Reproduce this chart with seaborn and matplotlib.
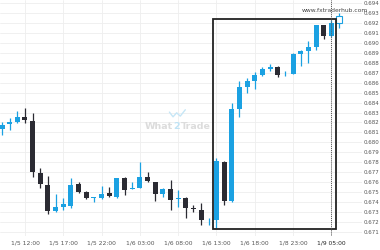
import numpy as np
import pandas as pd
import matplotlib
matplotlib.use("Agg")
import matplotlib.pyplot as plt
import seaborn as sns
from matplotlib.patches import Rectangle
from matplotlib.ticker import MultipleLocator, FormatStrFormatter

# hourly candles, starting 1/5 09:00
opens = [0.68134, 0.68184, 0.68205, 0.68255, 0.68215, 0.67691, 0.67570, 0.67308, 0.67348, 0.67359,
         0.67580, 0.67499, 0.67444, 0.67439, 0.67489, 0.67449, 0.67641, 0.67535, 0.67540, 0.67651,
         0.67600, 0.67479, 0.67530, 0.67434, 0.67439, 0.67338, 0.67318, 0.67203, 0.67218, 0.67802,
         0.67409, 0.68335, 0.68557, 0.68617, 0.68678, 0.68738, 0.68758, 0.68673, 0.68688, 0.68889,
         0.68919, 0.68960, 0.69181, 0.69070, 0.69201]
highs = [0.68205, 0.68245, 0.68315, 0.68345, 0.68295, 0.67741, 0.67661, 0.67479, 0.67439, 0.67641,
         0.67600, 0.67510, 0.67449, 0.67560, 0.67550, 0.67641, 0.67651, 0.67600, 0.67802, 0.67701,
         0.67605, 0.67540, 0.67620, 0.67520, 0.67445, 0.67369, 0.67389, 0.67238, 0.67842, 0.67812,
         0.68396, 0.68617, 0.68648, 0.68708, 0.68758, 0.68788, 0.68768, 0.68718, 0.68895, 0.68930,
         0.69020, 0.69185, 0.69185, 0.69232, 0.69302]
lows = [0.68074, 0.68124, 0.68194, 0.68194, 0.67651, 0.67540, 0.67278, 0.67298, 0.67318, 0.67338,
        0.67489, 0.67429, 0.67399, 0.67434, 0.67449, 0.67439, 0.67469, 0.67530, 0.67540, 0.67600,
        0.67409, 0.67449, 0.67318, 0.67348, 0.67238, 0.67298, 0.67167, 0.67167, 0.67137, 0.67369,
        0.67399, 0.68255, 0.68497, 0.68537, 0.68668, 0.68718, 0.68658, 0.68668, 0.68683, 0.68768,
        0.68799, 0.68930, 0.69040, 0.69060, 0.69151]
closes = [0.68174, 0.68205, 0.68255, 0.68225, 0.67701, 0.67580, 0.67308, 0.67348, 0.67379, 0.67570,
          0.67499, 0.67439, 0.67449, 0.67479, 0.67459, 0.67641, 0.67520, 0.67540, 0.67651, 0.67610,
          0.67479, 0.67530, 0.67419, 0.67439, 0.67338, 0.67333, 0.67218, 0.67208, 0.67812, 0.67409,
          0.68335, 0.68557, 0.68617, 0.68678, 0.68738, 0.68758, 0.68678, 0.68678, 0.68889, 0.68919,
          0.68960, 0.69181, 0.69070, 0.69201, 0.69272]

tick_pos = [3, 8, 13, 18, 23, 28, 33, 38, 43]
tick_labels = ["1/5 12:00", "1/5 17:00", "1/5 22:00", "1/6 03:00", "1/6 08:00",
               "1/6 13:00", "1/6 18:00", "1/8 23:00", "1/9 05:00"]

# highlighted pattern
box_start, box_end = 27.5, 43.6
box_low, box_high = 0.67127, 0.69242
marker_idx = 43

df = pd.DataFrame({"o": opens, "h": highs, "l": lows, "c": closes})
df["i"] = np.arange(len(df))
df["up"] = df["c"] >= df["o"]

sns.set_theme(style="white")
plt.rcParams["font.family"] = ["DejaVu Sans"]

BLUE = "#1ba1e2"
DARK = "#2b2b33"

fig = plt.figure(figsize=(3.8, 2.5), dpi=100)
ax = fig.add_axes([0.0, 0.056, 0.9526, 0.944])

# wicks
for up, sub in df.groupby("up"):
    ax.vlines(sub["i"], sub["l"], sub["h"], color=BLUE if up else DARK, linewidth=0.9, zorder=2)

# bodies
last = len(df) - 1
body = df.iloc[:last]
heights = np.maximum((body["c"] - body["o"]).abs(), 0.00006)
bottoms = np.minimum(body["c"], body["o"])
colors = [BLUE if u else DARK for u in body["up"]]
ax.bar(body["i"], heights, bottom=bottoms, width=0.66, color=colors, linewidth=0, zorder=3)
lr = df.iloc[last]
ax.bar([lr["i"]], [abs(lr["c"] - lr["o"])], bottom=[min(lr["c"], lr["o"])], width=0.66,
       facecolor="white", edgecolor=BLUE, linewidth=0.8, zorder=3)

# highlight box and marker line
ax.add_patch(Rectangle((box_start, box_low), box_end - box_start, box_high - box_low,
                       fill=False, edgecolor="#222222", linewidth=1.3, zorder=4))
ax.axvline(marker_idx, color="#555555", linestyle=(0, (1, 1)), linewidth=0.7, zorder=4)

ax.set_xlim(-0.26, 47.0)
ax.set_ylim(0.67057, 0.69433)

ax.yaxis.set_major_locator(MultipleLocator(0.001))
ax.yaxis.set_major_formatter(FormatStrFormatter("%.3f"))
ax.yaxis.tick_right()
ax.set_xticks(tick_pos)
ax.set_xticklabels(tick_labels)
ax.tick_params(axis="x", length=0, labelsize=4.3, colors="#555555", pad=3)
ax.tick_params(axis="y", length=0, labelsize=4.0, colors="#555555", pad=1.2)
ax.xaxis.get_ticklabels()[-1].set_color("#222222")

ax.grid(True, color="#eeeeee", linewidth=0.6, zorder=0)
for s in ax.spines.values():
    s.set_visible(False)

ax.text(43.5, 0.69332, "www.fxtraderhub.com", fontsize=4.3, color="#444444",
        ha="center", va="center", zorder=5)
# watermark
ax.text(0.478, 0.462, "What", transform=ax.transAxes, fontsize=6.8, fontweight="bold",
        color="#dcdcdc", ha="right", va="center", zorder=1)
ax.text(0.478, 0.462, "2", transform=ax.transAxes, fontsize=6.8, fontweight="bold",
        color="#bfe3f5", ha="left", va="center", zorder=1)
ax.text(0.50, 0.462, "Trade", transform=ax.transAxes, fontsize=6.8, fontweight="bold",
        color="#dcdcdc", ha="left", va="center", zorder=1)
ax.plot([0.468, 0.478, 0.488, 0.498, 0.512], [0.525, 0.505, 0.522, 0.508, 0.535],
        transform=ax.transAxes, color="#c6e6f6", linewidth=1.0, zorder=1)

fig.savefig("out.png", dpi=100)
